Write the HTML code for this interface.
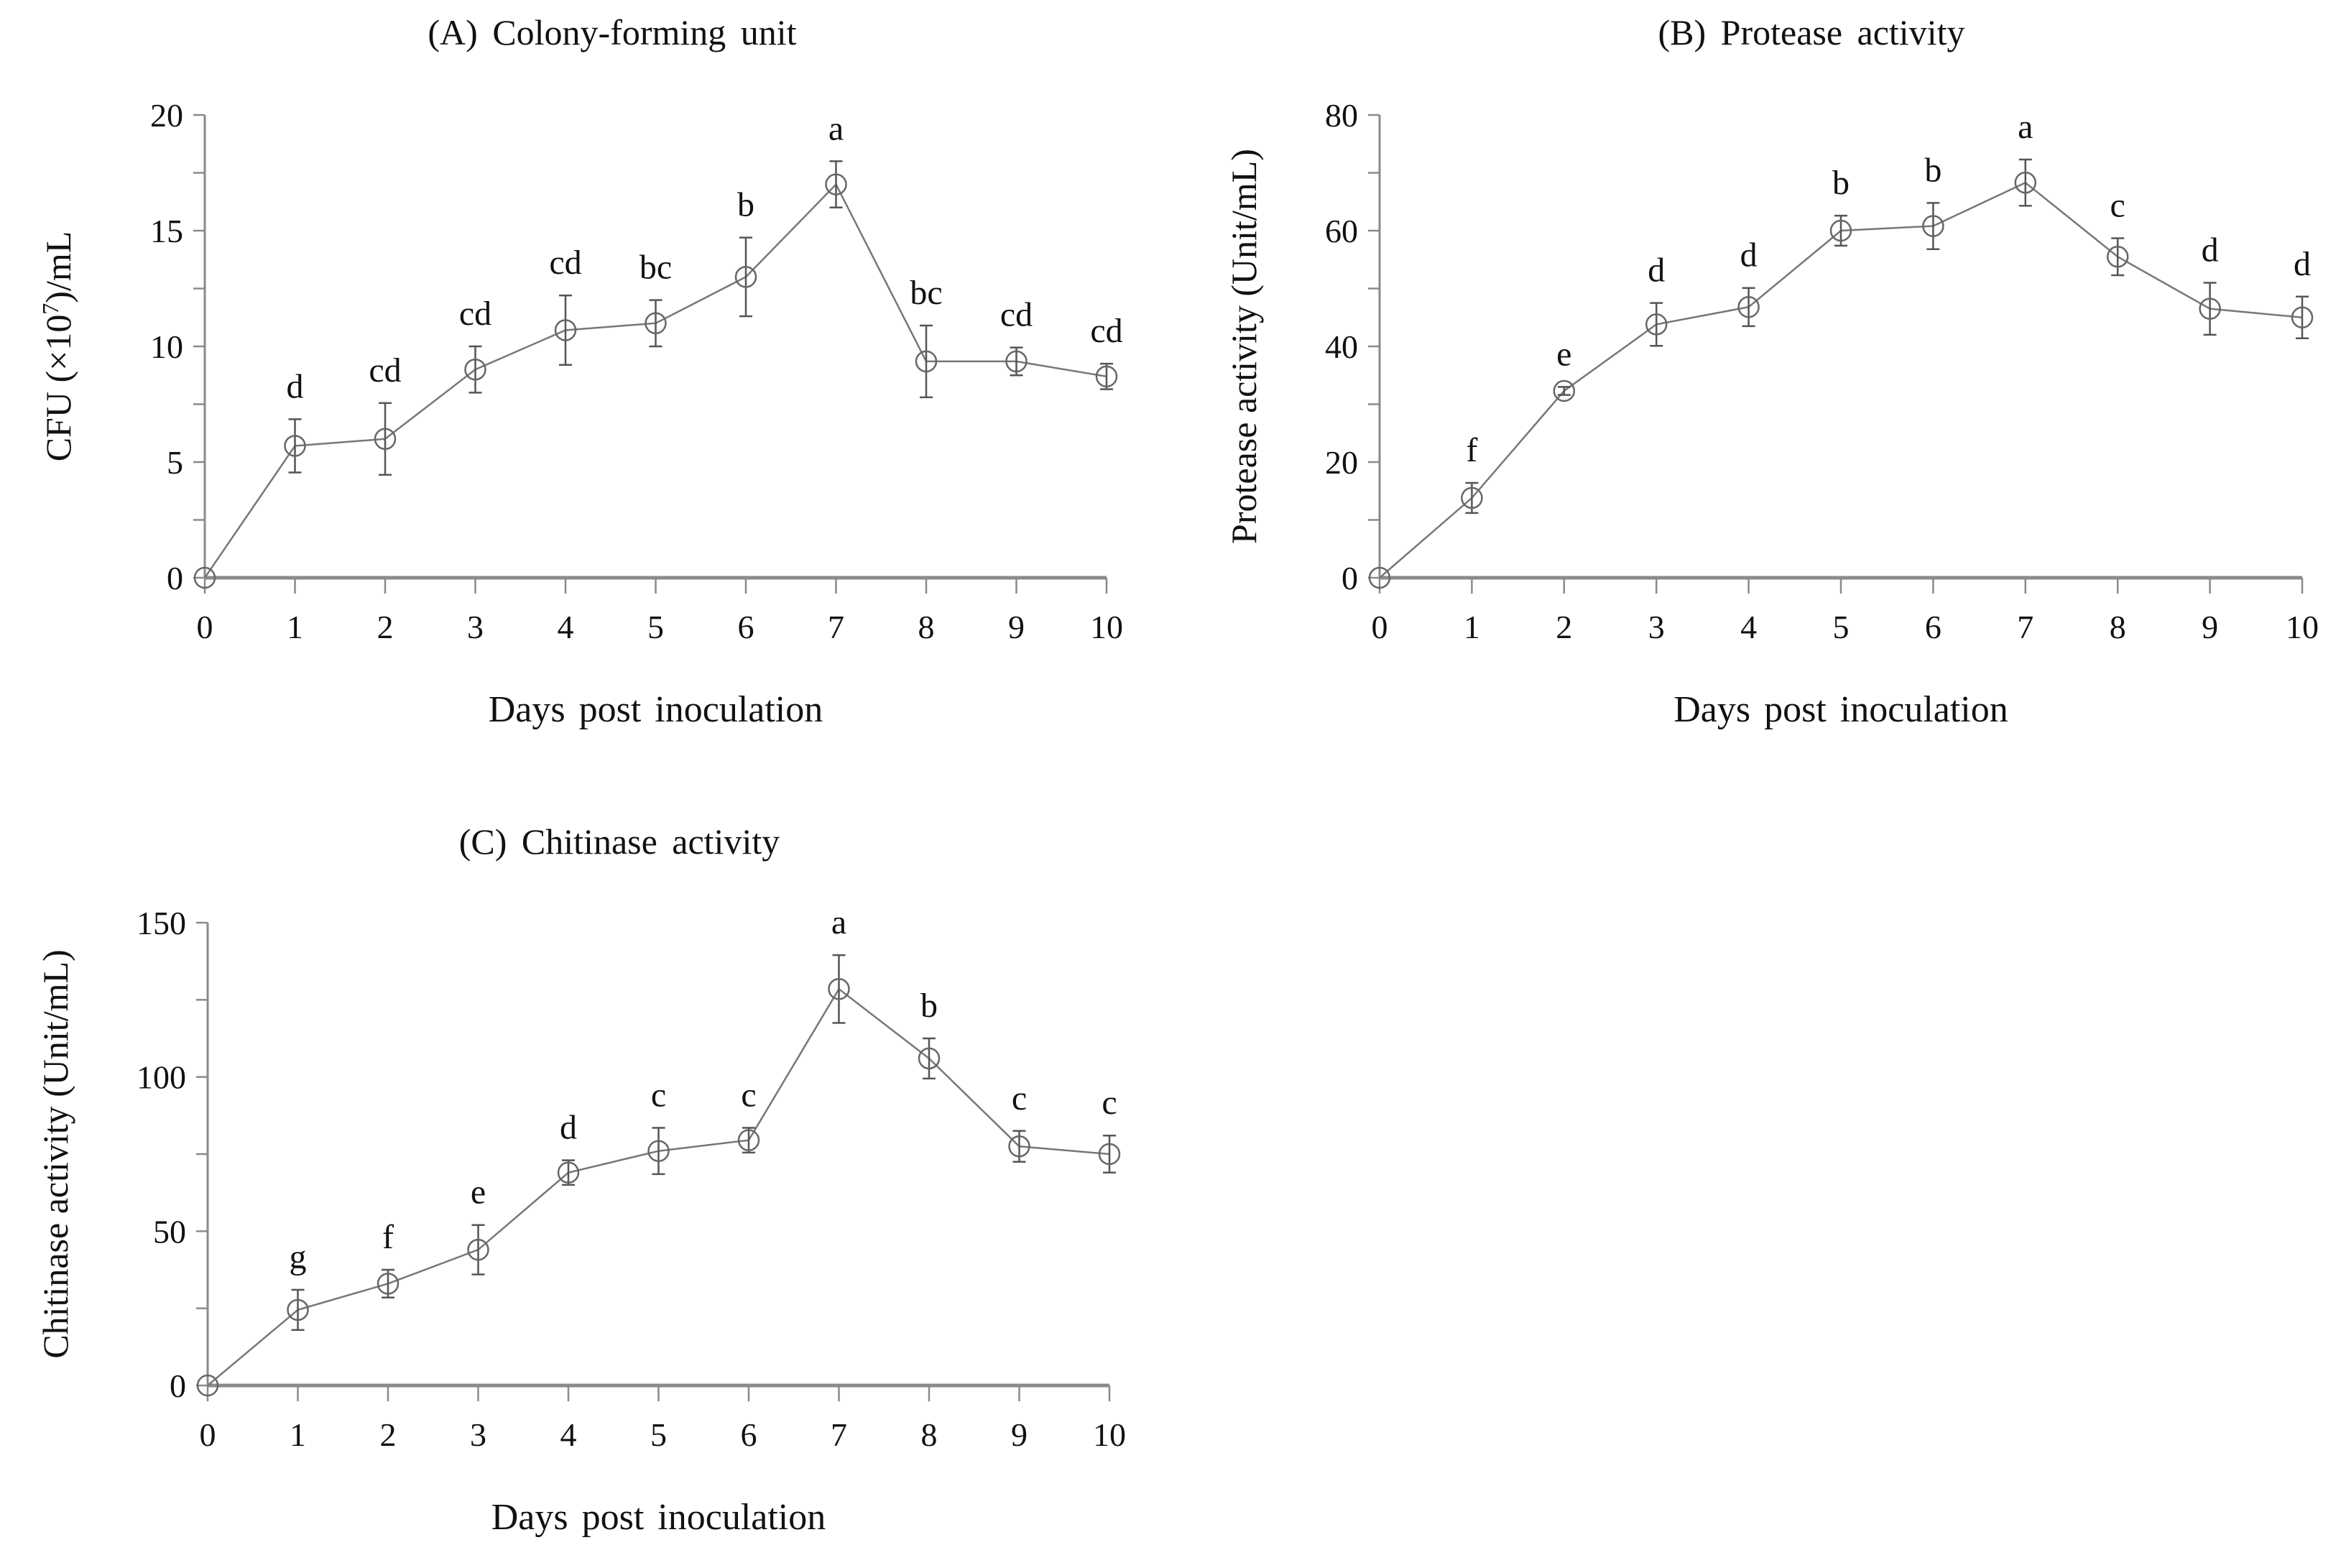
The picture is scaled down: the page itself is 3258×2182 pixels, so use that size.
<!DOCTYPE html>
<html><head><meta charset="utf-8"><style>
html,body{margin:0;padding:0;background:#fff;}
svg{display:block;font-family:"Liberation Serif",serif;}
</style></head><body>
<svg id="chart" width="3258" height="2182" viewBox="0 0 3258 2182" xmlns="http://www.w3.org/2000/svg"></svg>
<script>
const days = [0,1,2,3,4,5,6,7,8,9,10];
const cfuValues = [0,5.7,6,9,10.7,11,13,17,9.35,9.35,8.7];
const cfuErrors = [0,1.15,1.55,1,1.5,1,1.7,1,1.55,0.6,0.55];
const cfuLetters = ["","d","cd","cd","cd","bc","b","a","bc","cd","cd"];
const cfuTicks = [0,5,10,15,20];
const protValues = [0,13.8,32.3,43.8,46.8,60,60.8,68.3,55.5,46.5,45];
const protErrors = [0,2.6,0.7,3.7,3.3,2.6,4,4,3.2,4.5,3.6];
const protLetters = ["","f","e","d","d","b","b","a","c","d","d"];
const protTicks = [0,20,40,60,80];
const chitValues = [0,24.5,33,44,69,76,79.5,128.5,106,77.5,75];
const chitErrors = [0,6.5,4.5,8,4,7.5,4,11,6.5,5,6];
const chitLetters = ["","g","f","e","d","c","c","a","b","c","c"];
const chitTicks = [0,50,100,150];

const NS="http://www.w3.org/2000/svg";
const svg=document.getElementById('chart');
function mk(tag,attrs,parent){const e=document.createElementNS(NS,tag);for(const k in attrs)e.setAttribute(k,attrs[k]);(parent||svg).appendChild(e);return e;}

function panel(cfg){
  const g=mk('g',{});
  
  
  const ymax=cfg.ticks[cfg.ticks.length-1];
  const xs=d=>cfg.x0+(cfg.x1-cfg.x0)*d/10;
  const ys=v=>cfg.y0-(cfg.y0-cfg.y1)*v/ymax;
  const axc="#8a8a8a";
  const t=mk('text',{x:cfg.tx,y:cfg.ty,'font-size':50,'word-spacing':8,'text-anchor':'middle',fill:'#111'},g);
  t.textContent=cfg.title;
  
  
  const ya=mk('line',{x1:cfg.x0,y1:cfg.y0,x2:cfg.x0,y2:cfg.y1,stroke:axc,'stroke-width':3},g);
  
  
  const xa=mk('line',{x1:cfg.x0,y1:cfg.y0,x2:cfg.x1,y2:cfg.y0,stroke:axc,'stroke-width':5},g);
  
  
  const step=cfg.ticks[1]-cfg.ticks[0];
  for(let v=0;v<=ymax+1e-9;v+=step/2){
    mk('line',{x1:cfg.x0-16,y1:ys(v),x2:cfg.x0,y2:ys(v),stroke:axc,'stroke-width':2.5},g);
  }
  cfg.ticks.forEach(v=>{
    const l=mk('text',{x:cfg.x0-30,y:ys(v)+16,'font-size':46,'text-anchor':'end',fill:'#111'},g);
    l.textContent=v;
    
    
  });
  days.forEach(d=>{
    mk('line',{x1:xs(d),y1:cfg.y0,x2:xs(d),y2:cfg.y0+22,stroke:axc,'stroke-width':2.5},g);
    const l=mk('text',{x:xs(d),y:cfg.y0+84,'font-size':46,'text-anchor':'middle',fill:'#111'},g);
    l.textContent=d;
    
    
  });
  const xt=mk('text',{x:(cfg.x0+cfg.x1)/2,y:cfg.y0+200,'font-size':52,'word-spacing':6,'text-anchor':'middle',fill:'#111'},g);
  xt.textContent="Days post inoculation";
  
  
  const ycx=cfg.ylx, ycy=(cfg.y0+cfg.y1)/2;
  const yt=mk('text',{x:ycx,y:ycy,'font-size':50,'text-anchor':'middle',fill:'#111',transform:`rotate(-90 ${ycx} ${ycy})`},g);
  yt.innerHTML=cfg.ylabel;
  
  
  const pts=days.map((d,i)=>xs(d)+','+ys(cfg.values[i])).join(' ');
  const pl=mk('polyline',{points:pts,fill:'none',stroke:'#777','stroke-width':2.5},g);
  
  
  days.forEach((d,i)=>{
    const v=cfg.values[i],e=cfg.errors[i],x=xs(d);
    if(e>0){
      mk('line',{x1:x,y1:ys(v+e),x2:x,y2:ys(v-e),stroke:'#555','stroke-width':2.5},g);
      mk('line',{x1:x-9,y1:ys(v+e),x2:x+9,y2:ys(v+e),stroke:'#555','stroke-width':2.5},g);
      mk('line',{x1:x-9,y1:ys(v-e),x2:x+9,y2:ys(v-e),stroke:'#555','stroke-width':2.5},g);
    }
    const c=mk('circle',{cx:x,cy:ys(v),r:14,fill:'none',stroke:'#666','stroke-width':2.5},g);
    
    
    if(cfg.letters[i]){
      const l=mk('text',{x:x,y:ys(v+e)-30,'font-size':48,'text-anchor':'middle',fill:'#111'},g);
      l.textContent=cfg.letters[i];
      
      
    }
  });
}
panel({name:'panel-a-cfu',title:'(A) Colony-forming  unit',tx:852,ty:62,x0:285,x1:1540,y0:804,y1:160,ticks:cfuTicks,values:cfuValues,errors:cfuErrors,letters:cfuLetters,ylx:98,ylabel:'CFU (×10<tspan font-size="32" dy="-17">7</tspan><tspan dy="17">)/mL</tspan>'});
panel({name:'panel-b-protease',title:'(B) Protease  activity',tx:2521,ty:62,x0:1920,x1:3204,y0:804,y1:160,ticks:protTicks,values:protValues,errors:protErrors,letters:protLetters,ylx:1748,ylabel:'Protease  activity  (Unit/mL)'});
panel({name:'panel-c-chitinase',title:'(C) Chitinase  activity',tx:862,ty:1188,x0:289,x1:1544,y0:1928,y1:1284,ticks:chitTicks,values:chitValues,errors:chitErrors,letters:chitLetters,ylx:94,ylabel:'Chitinase  activity  (Unit/mL)'});
</script>
</body></html>
